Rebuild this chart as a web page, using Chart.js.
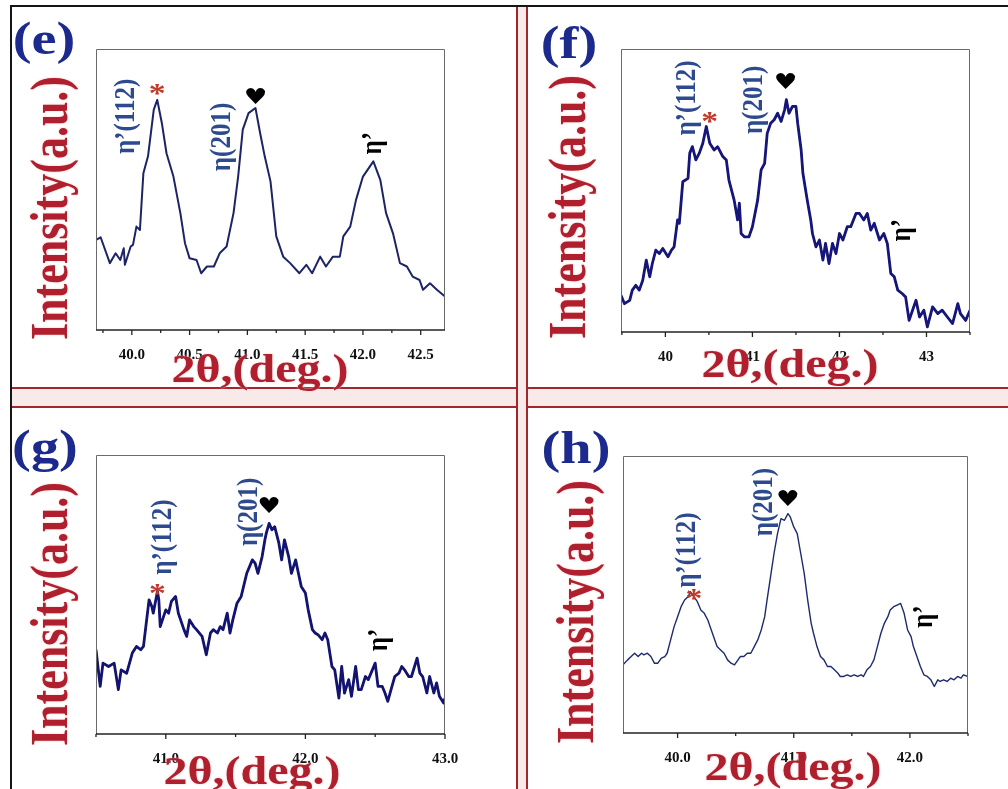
<!DOCTYPE html>
<html><head><meta charset="utf-8">
<script src="https://cdn.jsdelivr.net/npm/chart.js@4.4.1/dist/chart.umd.min.js"></script>
<style>
html,body{margin:0;padding:0;background:#fff;}
#page{position:relative;width:1008px;height:789px;overflow:hidden;background:#fff;}
.ln{position:absolute;}
.txt{position:absolute;white-space:nowrap;font-family:"Liberation Serif","Times New Roman",serif;font-weight:bold;line-height:1;}
.letter{color:#1b2a8c;font-size:47px;}
.ytitle{color:#b01f2d;font-size:44px;text-shadow:0 0 2px #f3c4c4;}
.xtitle{color:#b01f2d;font-size:40px;text-shadow:0 0 2px #f3c4c4;}
.holder{position:absolute;}
</style></head>
<body><div id="page">
<div class="ln" style="left:10px;top:5px;width:998px;height:2px;background:#151515"></div>
<div class="ln" style="left:10px;top:5px;width:2px;height:784px;background:#151515"></div>
<div class="ln" style="left:12px;top:387px;width:996px;height:17px;background:#f9eaea;border-top:2px solid #a3262d;border-bottom:2px solid #a3262d"></div>
<div class="ln" style="left:516px;top:7px;width:8px;height:782px;background:#f9eaea;border-left:2px solid #a3262d;border-right:2px solid #a3262d"></div>
</div>
<script>
// ---------- data ----------
const eX=[39.69,39.73,39.81,39.86,39.90,39.93,39.94,39.99,40.01,40.04,40.07,40.10,40.14,40.19,40.22,40.26,40.30,40.36,40.42,40.46,40.50,40.56,40.60,40.65,40.71,40.76,40.82,40.88,40.92,40.96,41.01,41.07,41.11,41.15,41.20,41.25,41.31,41.37,41.45,41.51,41.56,41.63,41.68,41.74,41.80,41.83,41.89,41.94,42.00,42.09,42.15,42.20,42.26,42.32,42.38,42.43,42.49,42.52,42.58,42.64,42.71];
const eY=[32.1,33.0,23.8,27.3,24.9,29.1,23.2,29.7,30.3,36.8,35.6,55.8,61.8,78.4,81.9,73.6,62.9,54.6,41.6,30.9,25.5,24.9,20.2,22.6,22.6,27.3,29.7,41.6,54.6,71.3,77.2,79.0,70.1,61.8,52.9,33.3,26.1,23.8,20.2,23.2,20.2,26.1,22.6,26.1,26.1,33.3,36.8,46.3,54.6,60.0,53.4,41.6,34.4,23.8,22.6,19.0,17.8,14.3,16.6,14.3,11.9];
const eTickValues=[40.0,40.5,41.0,41.5,42.0,42.5];
const eTickLabels=["40.0","40.5","41.0","41.5","42.0","42.5"];
const eMinorTicks=[39.75,40.25,40.75,41.25,41.75,42.25];

const fX=[39.49,39.53,39.59,39.62,39.66,39.70,39.74,39.78,39.82,39.85,39.89,39.93,39.97,40.03,40.07,40.10,40.14,40.16,40.20,40.26,40.28,40.31,40.35,40.39,40.43,40.47,40.51,40.56,40.60,40.66,40.70,40.73,40.79,40.83,40.85,40.87,40.91,40.96,41.00,41.06,41.10,41.14,41.17,41.21,41.25,41.29,41.33,41.37,41.39,41.42,41.46,41.50,41.52,41.56,41.58,41.63,41.67,41.69,41.73,41.77,41.81,41.84,41.88,41.92,41.96,42.00,42.04,42.09,42.13,42.19,42.23,42.28,42.32,42.36,42.40,42.46,42.51,42.55,42.59,42.63,42.67,42.72,42.76,42.80,42.84,42.88,42.92,42.97,43.01,43.07,43.13,43.18,43.24,43.30,43.36,43.39,43.45,43.50];
const fY=[13.0,10.0,11.2,14.8,16.5,14.8,18.3,25.4,19.5,24.2,28.9,27.7,29.5,26.6,28.9,30.1,39.6,38.4,53.1,54.3,63.2,65.5,60.8,63.2,66.7,72.6,66.7,64.3,65.5,62.0,60.8,53.7,46.6,39.6,45.5,34.8,33.6,33.6,37.2,46.6,57.3,59.6,70.2,73.8,75.0,77.3,74.4,78.5,82.1,77.3,79.7,79.7,73.8,64.3,56.1,46.6,39.6,34.8,30.1,32.5,25.4,31.3,24.2,31.3,27.7,34.8,32.5,37.2,37.2,41.9,41.9,39.6,41.9,36.0,38.4,32.5,34.8,31.3,20.7,19.5,14.8,13.6,12.4,4.1,7.7,11.2,5.3,7.7,1.8,8.9,6.5,7.7,5.3,3.0,10.0,6.5,4.1,7.7];
const fTickValues=[40,41,42,43];
const fTickLabels=["40","41","42","43"];
const fMinorTicks=[39.5,40.5,41.5,42.5,43.5];

const gX=[40.50,40.53,40.55,40.59,40.63,40.66,40.68,40.72,40.76,40.79,40.82,40.84,40.88,40.90,40.91,40.94,40.95,40.96,41.00,41.02,41.04,41.07,41.09,41.13,41.15,41.17,41.20,41.22,41.26,41.29,41.32,41.34,41.37,41.39,41.41,41.44,41.46,41.48,41.51,41.54,41.58,41.62,41.64,41.66,41.69,41.71,41.72,41.74,41.76,41.78,41.81,41.83,41.85,41.88,41.90,41.93,41.95,41.97,42.00,42.02,42.05,42.07,42.09,42.12,42.14,42.16,42.19,42.21,42.24,42.26,42.28,42.31,42.33,42.36,42.38,42.40,42.43,42.45,42.47,42.50,42.52,42.55,42.57,42.59,42.62,42.64,42.67,42.69,42.71,42.74,42.76,42.80,42.82,42.84,42.87,42.89,42.92,42.94,42.96,42.99,43.00];
const gY=[30.2,17.1,25.4,24.2,25.4,15.9,23.0,21.8,29.0,31.4,30.2,31.4,48.1,45.7,43.3,51.1,48.1,38.5,44.5,43.3,47.5,49.3,43.3,37.4,35.0,40.9,38.5,37.4,35.0,28.4,36.2,37.4,36.2,38.5,37.4,43.3,36.2,40.9,46.9,49.3,57.6,62.4,61.2,57.6,63.6,69.6,72.0,75.5,73.2,74.3,68.4,62.4,69.6,63.6,57.6,62.4,57.6,52.9,50.5,44.5,37.4,36.2,35.6,33.8,36.2,33.8,24.2,23.0,12.9,24.2,14.7,19.5,13.5,24.2,15.9,15.9,20.6,19.5,21.8,25.4,17.1,17.1,14.7,11.7,17.1,20.6,21.8,24.2,23.0,20.6,20.6,27.2,21.8,20.6,14.7,20.6,14.7,18.3,13.5,11.1,12.9];
const gTickValues=[41,42,43];
const gTickLabels=["41.0","42.0","43.0"];
const gMinorTicks=[40.5,41.5,42.5];

const hX=[39.53,39.57,39.60,39.63,39.66,39.69,39.71,39.74,39.77,39.80,39.83,39.86,39.89,39.91,39.94,39.97,40.00,40.03,40.06,40.09,40.11,40.14,40.17,40.20,40.23,40.26,40.29,40.32,40.34,40.37,40.40,40.43,40.46,40.49,40.52,40.54,40.57,40.60,40.63,40.66,40.69,40.72,40.75,40.77,40.80,40.83,40.86,40.89,40.92,40.95,40.97,41.00,41.03,41.06,41.09,41.12,41.15,41.17,41.20,41.23,41.26,41.29,41.32,41.35,41.38,41.40,41.43,41.46,41.49,41.52,41.55,41.58,41.60,41.63,41.66,41.69,41.72,41.75,41.78,41.81,41.83,41.86,41.89,41.92,41.95,41.98,42.01,42.03,42.06,42.09,42.12,42.15,42.18,42.21,42.24,42.26,42.29,42.32,42.35,42.38,42.41,42.44,42.46,42.50];
const hY=[24.6,26.4,27.6,28.8,27.6,28.8,28.2,28.8,27.6,25.2,25.2,27.0,27.6,28.8,33.6,38.4,42.0,45.6,48.0,49.2,51.0,49.2,47.4,44.4,43.2,40.8,37.2,33.6,31.2,30.0,28.8,26.4,25.2,24.6,26.4,27.6,27.6,28.8,28.8,31.2,33.6,37.2,42.0,48.0,56.4,64.8,72.0,77.4,76.8,79.2,78.0,74.4,72.0,64.8,57.6,48.0,39.6,36.0,31.2,27.6,26.4,24.0,24.0,22.8,21.6,20.4,20.4,21.0,20.4,21.0,20.4,21.0,20.4,22.8,24.0,26.4,31.2,36.0,39.6,42.0,44.4,45.6,46.2,46.8,43.2,37.2,34.8,31.2,27.6,24.0,21.0,20.4,19.2,16.8,19.2,18.6,19.2,18.6,19.8,19.2,20.4,19.8,21.0,20.4];
const hTickValues=[40,41,42];
const hTickLabels=["40.0","41.0","42.0"];
const hMinorTicks=[40.5,41.5,42.5];

// peak labels (text + data position)
const peakText={p112:"η’(112)",star:"*",p201:"η(201)",heart:"♥",eta:"η’"};
const eNotes=[["p112",39.95,76],["star",40.22,87],["p201",40.78,68.7],["heart",41.07,82.6],["eta",42.09,66.5]];
const fNotes=[["p112",40.25,82.7],["star",40.51,77],["p201",41.02,82],["heart",41.38,88],["eta",42.72,36]];
const gNotes=[["p112",40.98,70.6],["star",40.94,53],["p201",41.60,79.6],["heart",41.74,81.4],["eta",42.53,33.7]];
const hNotes=[["p112",40.08,66],["star",40.14,51.5],["p201",40.75,83.4],["heart",40.95,84],["eta",42.12,42]];

const panelLetters=["(e)","(f)","(g)","(h)"];
const xTitle="2θ,(deg.)";
const yTitle="Intensity(a.u.)";

// ---------- layout / style ----------
const panels=[
 {x:eX,y:eY,tv:eTickValues,tl:eTickLabels,mt:eMinorTicks,notes:eNotes,box:[96,49,349,281],min:39.69,max:42.71,
  line:[{c:'#1d2466',w:2}],letter:[44,38],yt:[50,208],xt:[260,369]},
 {x:fX,y:fY,tv:fTickValues,tl:fTickLabels,mt:fMinorTicks,notes:fNotes,box:[621,49,349,283],min:39.49,max:43.5,
  line:[{c:'#15157a',w:2.8},{c:'#2e34ff',w:1.5}],letter:[569,42],yt:[568,207],xt:[790,364]},
 {x:gX,y:gY,tv:gTickValues,tl:gTickLabels,mt:gMinorTicks,notes:gNotes,box:[96,455,349,279],min:40.5,max:43.0,
  line:[{c:'#131370',w:2.8},{c:'#2a30e8',w:1.5}],letter:[45,446],yt:[50,614],xt:[252,771]},
 {x:hX,y:hY,tv:hTickValues,tl:hTickLabels,mt:hMinorTicks,notes:hNotes,box:[623,456,345,277],min:39.53,max:42.5,
  line:[{c:'#1f2a6e',w:1.4}],letter:[576,447],yt:[576,612],xt:[793,767]}
];
const noteStyle={
 p112:{font:'bold 25px "Liberation Serif"',color:'#2d4a8e',rot:true},
 p201:{font:'bold 25px "Liberation Serif"',color:'#2d4a8e',rot:true},
 star:{font:'bold 28px "Liberation Serif"',color:'#c0392b',rot:false,dy:9},
 heart:{font:'22px "DejaVu Sans"',color:'#000',rot:false},
 eta:{font:'bold 25px "Liberation Serif"',color:'#000',rot:true}
};
const SX=1.2;

const page=document.getElementById('page');
function addText(cls,txt,cx,cy,rot){
  const d=document.createElement('div');
  d.className='txt '+cls; d.textContent=txt;
  d.style.left=cx+'px'; d.style.top=cy+'px';
  d.style.transform='translate(-50%,-50%) scaleX('+SX+')'+(rot?' rotate(-90deg)':'');
  page.appendChild(d);
}

const framePlugin={
  id:'frame',
  afterDatasetsDraw(chart,args,opts){
    const {ctx,chartArea:a,scales:{x,y}}=chart;
    ctx.save();
    ctx.strokeStyle='#6a6a6a'; ctx.lineWidth=1;
    ctx.beginPath();
    ctx.moveTo(a.left+0.5,a.bottom); ctx.lineTo(a.left+0.5,a.top+0.5);
    ctx.lineTo(a.right-0.5,a.top+0.5); ctx.lineTo(a.right-0.5,a.bottom);
    ctx.stroke();
    ctx.strokeStyle='#222'; ctx.lineWidth=1.6;
    ctx.beginPath(); ctx.moveTo(a.left,a.bottom); ctx.lineTo(a.right,a.bottom); ctx.stroke();
    ctx.lineWidth=1.3;
    const tick=(v,len)=>{const px=x.getPixelForValue(v);ctx.beginPath();ctx.moveTo(px,a.bottom);ctx.lineTo(px,a.bottom+len);ctx.stroke();};
    opts.major.forEach(v=>tick(v,5));
    opts.minor.forEach(v=>tick(v,3));
    opts.notes.forEach(([k,vx,vy])=>{
      const st=noteStyle[k];
      const px=x.getPixelForValue(vx), py=y.getPixelForValue(vy)+(st.dy||0);
      ctx.save(); ctx.translate(px,py); ctx.scale(SX,1);
      if(st.rot) ctx.rotate(-Math.PI/2);
      ctx.font=st.font; ctx.fillStyle=st.color; ctx.textAlign='center'; ctx.textBaseline='middle';
      ctx.fillText(peakText[k],0,0);
      ctx.restore();
    });
    ctx.restore();
  }
};

panels.forEach((p,i)=>{
  const [bx,by,bw,bh]=p.box;
  const holder=document.createElement('div');
  holder.className='holder';
  holder.style.left=(bx-30)+'px'; holder.style.top=(by-10)+'px';
  holder.style.width=(bw+60)+'px'; holder.style.height=(bh+40)+'px';
  const cv=document.createElement('canvas'); holder.appendChild(cv); page.appendChild(holder);
  const pts=p.x.map((v,j)=>({x:v,y:p.y[j]}));
  const allTicks=p.tv.concat(p.mt).sort((a,b)=>a-b);
  new Chart(cv,{
    type:'line',
    data:{datasets:p.line.map(l=>({data:pts,borderColor:l.c,borderWidth:l.w,pointRadius:0,tension:0,fill:false,borderJoinStyle:'round'}))},
    options:{
      responsive:true,maintainAspectRatio:false,animation:false,devicePixelRatio:1,
      layout:{padding:{left:30,right:30,top:10,bottom:0}},
      plugins:{legend:{display:false},tooltip:{enabled:false},
        frame:{major:p.tv,minor:p.mt,notes:p.notes}},
      scales:{
        x:{type:'linear',min:p.min,max:p.max,
           afterBuildTicks:s=>{s.ticks=allTicks.map(v=>({value:v}));},
           afterFit:s=>{s.height=30;},
           grid:{display:false},border:{display:false},
           ticks:{autoSkip:false,maxRotation:0,minRotation:0,padding:8,color:'#111',
             font:{family:'"Liberation Serif"',weight:'bold',size:15},
             callback:v=>{const k=p.tv.findIndex(t=>Math.abs(t-v)<1e-6);return k>=0?p.tl[k]:'';}}},
        y:{type:'linear',min:0,max:100,display:false}
      }
    },
    plugins:[framePlugin]
  });
  addText('letter',panelLetters[i],p.letter[0],p.letter[1],false);
  addText('ytitle',yTitle,p.yt[0],p.yt[1],true);
  addText('xtitle',xTitle,p.xt[0],p.xt[1],false);
});
</script>
</body></html>
